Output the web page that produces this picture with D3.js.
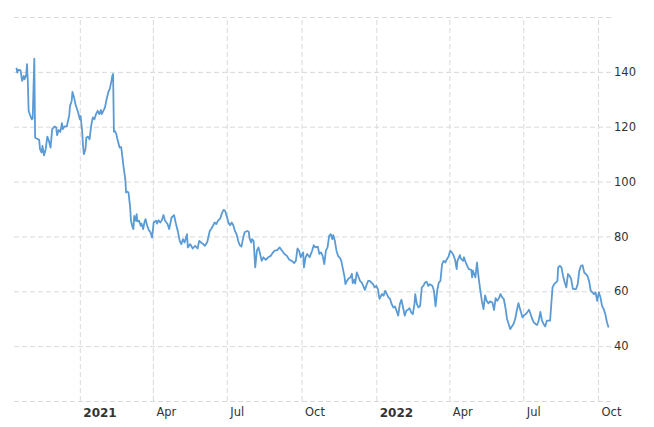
<!DOCTYPE html>
<html>
<head>
<meta charset="utf-8">
<script src="https://cdn.jsdelivr.net/npm/d3@7"></script>
<style>
  html, body { margin: 0; padding: 0; background: #ffffff; }
  svg { display: block; }
</style>
</head>
<body>
<div id="chart"></div>
<script>
// ---- Data ----
const dates = [
"2020-10-15","2020-10-16","2020-10-17","2020-10-20","2020-10-22","2020-10-24","2020-10-25","2020-10-27","2020-10-28","2020-10-29","2020-10-30",
"2020-11-01","2020-11-03","2020-11-04","2020-11-06","2020-11-07","2020-11-09","2020-11-12","2020-11-13","2020-11-15","2020-11-16","2020-11-18","2020-11-20","2020-11-22","2020-11-24","2020-11-26","2020-11-28",
"2020-12-01","2020-12-03","2020-12-04","2020-12-06","2020-12-08","2020-12-10","2020-12-11","2020-12-13","2020-12-16","2020-12-19","2020-12-20","2020-12-22","2020-12-23","2020-12-25","2020-12-27","2020-12-30",
"2021-01-01","2021-01-02","2021-01-04","2021-01-05","2021-01-06","2021-01-08","2021-01-09","2021-01-11","2021-01-13","2021-01-15","2021-01-17","2021-01-19","2021-01-21","2021-01-23","2021-01-25","2021-01-27","2021-01-28","2021-01-30",
"2021-02-01","2021-02-03","2021-02-05","2021-02-07","2021-02-09","2021-02-10","2021-02-11","2021-02-12","2021-02-13","2021-02-15","2021-02-16","2021-02-19","2021-02-21","2021-02-22","2021-02-24","2021-02-26","2021-02-27","2021-02-28",
"2021-03-02","2021-03-04","2021-03-05","2021-03-07","2021-03-08","2021-03-09","2021-03-11","2021-03-12","2021-03-13","2021-03-15","2021-03-17","2021-03-18","2021-03-20","2021-03-22","2021-03-23","2021-03-25","2021-03-27","2021-03-29","2021-03-31",
"2021-04-02","2021-04-05","2021-04-06","2021-04-08","2021-04-10","2021-04-12","2021-04-14","2021-04-16","2021-04-19","2021-04-21","2021-04-24","2021-04-27","2021-04-29",
"2021-05-02","2021-05-04","2021-05-06","2021-05-08","2021-05-10","2021-05-13","2021-05-14","2021-05-17","2021-05-20","2021-05-23","2021-05-26","2021-05-28","2021-05-31",
"2021-06-02","2021-06-04","2021-06-07","2021-06-10","2021-06-12","2021-06-14","2021-06-16","2021-06-18","2021-06-20","2021-06-23","2021-06-25","2021-06-27","2021-06-29",
"2021-07-01","2021-07-03","2021-07-05","2021-07-07","2021-07-09","2021-07-11","2021-07-13","2021-07-15","2021-07-17","2021-07-19","2021-07-21","2021-07-23","2021-07-26","2021-07-28","2021-07-29","2021-07-31",
"2021-08-01","2021-08-03","2021-08-05","2021-08-07","2021-08-09","2021-08-11","2021-08-13","2021-08-15","2021-08-18","2021-08-21","2021-08-24","2021-08-27","2021-08-29",
"2021-09-01","2021-09-04","2021-09-07","2021-09-10","2021-09-13","2021-09-16","2021-09-19","2021-09-22","2021-09-24","2021-09-26","2021-09-28","2021-09-30",
"2021-10-03","2021-10-04","2021-10-06","2021-10-08","2021-10-11","2021-10-14","2021-10-16","2021-10-18","2021-10-21","2021-10-23","2021-10-25","2021-10-27","2021-10-29","2021-10-31",
"2021-11-02","2021-11-04","2021-11-06","2021-11-08","2021-11-09","2021-11-11","2021-11-13","2021-11-15","2021-11-18","2021-11-19","2021-11-21","2021-11-23","2021-11-24","2021-11-26","2021-11-28","2021-11-30",
"2021-12-02","2021-12-03","2021-12-05","2021-12-06","2021-12-08","2021-12-10","2021-12-12","2021-12-14","2021-12-16","2021-12-18","2021-12-20","2021-12-22","2021-12-24","2021-12-26","2021-12-28","2021-12-30",
"2022-01-01","2022-01-03","2022-01-05","2022-01-08","2022-01-10","2022-01-12","2022-01-14","2022-01-16","2022-01-18","2022-01-20","2022-01-22","2022-01-24","2022-01-26","2022-01-28","2022-01-30",
"2022-02-01","2022-02-03","2022-02-05","2022-02-07","2022-02-09","2022-02-11","2022-02-13","2022-02-15","2022-02-17","2022-02-18","2022-02-20","2022-02-22","2022-02-24","2022-02-26","2022-02-28",
"2022-03-02","2022-03-04","2022-03-06","2022-03-08","2022-03-11","2022-03-13","2022-03-15","2022-03-17","2022-03-19","2022-03-21","2022-03-23","2022-03-25","2022-03-27","2022-03-29","2022-03-31",
"2022-04-02","2022-04-04","2022-04-06","2022-04-08","2022-04-10","2022-04-11","2022-04-14","2022-04-15","2022-04-18","2022-04-19","2022-04-21","2022-04-23","2022-04-25","2022-04-28","2022-04-29","2022-04-30",
"2022-05-03","2022-05-05","2022-05-07","2022-05-09","2022-05-11","2022-05-13","2022-05-15","2022-05-17","2022-05-19","2022-05-21","2022-05-24","2022-05-26","2022-05-28","2022-05-30",
"2022-06-01","2022-06-03","2022-06-05","2022-06-07","2022-06-09","2022-06-11","2022-06-13","2022-06-15","2022-06-17","2022-06-19","2022-06-21","2022-06-23","2022-06-25","2022-06-27","2022-06-30",
"2022-07-02","2022-07-04","2022-07-06","2022-07-08","2022-07-10","2022-07-12","2022-07-14","2022-07-16","2022-07-18","2022-07-20","2022-07-22","2022-07-24","2022-07-26","2022-07-28","2022-07-30",
"2022-08-01","2022-08-03","2022-08-06","2022-08-08","2022-08-10","2022-08-12","2022-08-13","2022-08-15","2022-08-17","2022-08-19","2022-08-21","2022-08-23","2022-08-25","2022-08-27","2022-08-29","2022-08-31",
"2022-09-02","2022-09-04","2022-09-06","2022-09-08","2022-09-10","2022-09-12","2022-09-14","2022-09-16","2022-09-18","2022-09-20","2022-09-22","2022-09-24","2022-09-26","2022-09-28","2022-09-30",
"2022-10-02","2022-10-04","2022-10-06","2022-10-08","2022-10-10","2022-10-12","2022-10-14"
];
const values = [
141.5,139.7,140.7,140.6,136.7,138.5,137.3,138.8,142.8,136.7,125.8,
124,122.7,123,144.8,116,115.7,115.2,111.8,110.6,113,109.6,111.8,116.4,114.8,112.4,119.1,
120.1,119.7,116.9,118.8,118.1,121.3,119.1,120.1,120.1,124.2,127.6,129.4,132.7,130.6,127.8,125.2,
122.7,123.9,117.9,113,110,111.8,116,116.4,115.4,120.3,123.4,122.7,124.6,125.8,124.6,126.1,124.6,125.8,
127,130,132.5,133.9,136.7,138.5,139.2,118.2,118.5,117.3,115.8,112.4,112.6,110,105.1,100.9,96,96.4,
96,90.6,85.7,83.3,82.7,87.5,85.7,88.1,85.5,85.7,83.9,84.7,82.7,85.7,86.3,83.9,82.3,81.5,79.6,
85.1,85.7,84.7,85.9,85.1,85.9,87.8,85.7,84.5,82.7,86.9,87.8,85.1,
81.5,78.4,77.2,79,77.8,80.8,76,77.2,75.6,76.6,75.6,78.4,77.6,
77.2,76.6,78,82,82.9,83.9,85.1,84.5,85.7,86.6,88.5,89.7,89.3,
87.3,85.1,84.1,85.1,84.1,82,80.8,78.4,76.8,76.3,79.3,81.5,82,81.7,79.3,77.8,
79,78.4,68.7,74.8,76,73.6,71.1,72.4,71.5,72.4,72.9,74.2,74.8,
75,76,74.8,73.6,72.9,71.5,71.1,70.3,71.1,75.6,74.8,72.4,
74.2,68.7,72.4,73.6,72.4,74.8,76.8,76,76.3,73.6,74.2,72.9,69.9,74.8,
76,80.2,80.8,79,80.5,78.4,74.8,72.9,71.8,71,68.1,65.1,62.6,63.8,64.7,65,
66.4,63,64.2,62.8,66.9,65.4,63.8,63.2,62,60.5,62.3,63.8,63.8,63.2,62.6,61.4,
62,60.8,57.2,59,58.4,60.2,59,57.8,57.2,55.3,54.1,54.5,52.9,51.1,55.3,
56.9,54.1,51.1,52.9,53.3,53.8,52.3,51.7,55.3,59,55.3,54.1,54.7,61.4,62,
63.2,63.5,62,62.6,62,60.2,54.5,60.2,63.2,63.8,69.9,71.1,70.5,71.7,72.7,
74.8,74.2,73.2,71.5,68.1,71.1,73.2,72,71.1,72.4,70.6,69.3,68.1,67.8,65.1,67.5,
65.1,70.5,65,60.5,56.5,53.5,58.5,56.5,55.6,56.3,55.9,53.2,57.5,56.5,
57.5,59,57.8,57.2,54.1,49.9,48.1,46.2,47.2,48.1,49.9,52.9,55.7,53.5,50.5,
51.3,51.7,52.3,53.3,51.7,49.9,48.7,48.1,47.7,49.3,52.5,49.3,48.1,47.2,49.3,
49.3,49.3,61.4,62.6,63.2,63.8,68.7,69.3,68.7,65.6,63.2,61.4,66.3,65.6,64.4,61,
60.8,60.8,62.6,67.5,69.3,69.5,66.9,66.3,65.6,63.8,60.2,59.6,59,59.6,56.5,
59.6,57.8,54.7,53.5,51.7,48.7,46.8
];
const xTickDates = ["2021-01-01","2021-04-01","2021-07-01","2021-10-01","2022-01-01","2022-04-01","2022-07-01","2022-10-01"];
const xTickLabels = ["2021","Apr","Jul","Oct","2022","Apr","Jul","Oct"];
const xTickBold = [true,false,false,false,true,false,false,false];
const yTicks = [20,40,60,80,100,120,140,160];
const yTickLabels = ["","40","60","80","100","120","140",""];
const xDomain = ["2020-10-12","2022-10-17"];
const yDomain = [20,160];

// ---- Chart ----
const W = 654, H = 427;
const plot = { left: 14, right: 611, top: 17, bottom: 401 };
const parse = d3.timeParse("%Y-%m-%d");
const data = dates.map((d, i) => ({ date: parse(d), value: values[i] }));

const x = d3.scaleTime().domain(xDomain.map(parse)).range([plot.left, plot.right]);
const y = d3.scaleLinear().domain(yDomain).range([plot.bottom, plot.top]);

const svg = d3.select("#chart").append("svg").attr("width", W).attr("height", H);
const font = "'DejaVu Sans', Verdana, sans-serif";

// horizontal gridlines + right axis labels
const yAxis = d3.axisRight(y)
  .tickValues(yTicks)
  .tickSize(-(plot.right - plot.left))
  .tickFormat((d, i) => yTickLabels[i]);
const gy = svg.append("g").attr("transform", `translate(${plot.right},0)`).call(yAxis);
gy.select(".domain").remove();
gy.selectAll(".tick line").attr("stroke", "#d9d9d9").attr("stroke-dasharray", "5,3");
gy.selectAll(".tick text").attr("x", 3).attr("fill", "#333").style("font-family", font).style("font-size", "11.5px");

// vertical gridlines + bottom axis labels
const xAxis = d3.axisBottom(x)
  .tickValues(xTickDates.map(parse))
  .tickSize(-(plot.bottom - plot.top))
  .tickFormat((d, i) => xTickLabels[i]);
const gx = svg.append("g").attr("transform", `translate(0,${plot.bottom})`).call(xAxis);
gx.select(".domain").remove();
gx.selectAll(".tick line").attr("stroke", "#d9d9d9").attr("stroke-dasharray", "5,3");
gx.selectAll(".tick text")
  .attr("text-anchor", "start")
  .attr("x", 3)
  .attr("y", 7)
  .attr("fill", "#333")
  .style("font-family", font)
  .style("font-size", (d, i) => xTickBold[i] ? "12px" : "11.5px")
  .style("font-weight", (d, i) => xTickBold[i] ? "bold" : "normal");

// price line
const line = d3.line().x(d => x(d.date)).y(d => y(d.value));
svg.append("path")
  .datum(data)
  .attr("fill", "none")
  .attr("stroke", "#5b9bd5")
  .attr("stroke-width", 1.8)
  .attr("stroke-linejoin", "round")
  .attr("d", line);
</script>
</body>
</html>
